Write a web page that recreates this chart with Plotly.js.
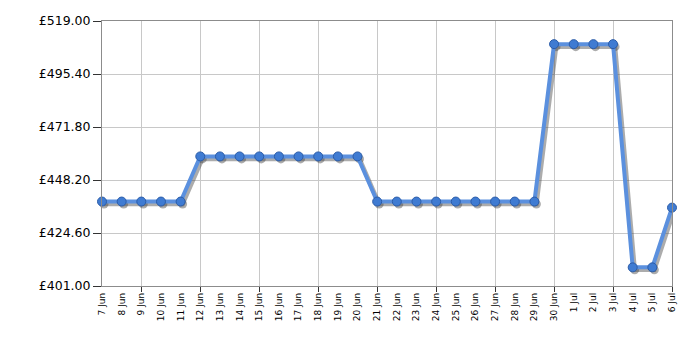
<!DOCTYPE html>
<html>
<head>
<meta charset="utf-8">
<script src="https://cdn.plot.ly/plotly-3.0.1.min.js"></script>
<style>html,body{margin:0;padding:0;background:#fff;}#chart{width:700px;height:350px;}</style>
</head>
<body>
<div id="chart"></div>
<script>
const dates = ["7 Jun","8 Jun","9 Jun","10 Jun","11 Jun","12 Jun","13 Jun","14 Jun","15 Jun","16 Jun","17 Jun","18 Jun","19 Jun","20 Jun","21 Jun","22 Jun","23 Jun","24 Jun","25 Jun","26 Jun","27 Jun","28 Jun","29 Jun","30 Jun","1 Jul","2 Jul","3 Jul","4 Jul","5 Jul","6 Jul"];
const prices = [438.6,438.6,438.6,438.6,438.6,458.7,458.7,458.7,458.7,458.7,458.7,458.7,458.7,458.7,438.6,438.6,438.6,438.6,438.6,438.6,438.6,438.6,438.6,508.7,508.7,508.7,508.7,409.3,409.3,435.9];
const yMin = 401, yMax = 519, yStep = 23.6;

const idx = dates.map((d, i) => i);
const n = dates.length;
// major grid ticks every 3 days counted from the last day
const gridIdx = [];
for (let i = n - 1; i >= 0; i -= 3) gridIdx.unshift(i);

const L = 102, R = 28, T = 21, B = 64;
const W = 700 - L - R, H = 350 - T - B;
const xr = [0, n - 1];
const pxX = (n - 1) / W, pxY = (yMax - yMin) / H;
const sdx = 2, sdy = 2.5;

const gridTrace = {x: [0], y: [yMin], xaxis: 'x', yaxis: 'y', type: 'scatter', mode: 'markers', marker: {opacity: 0}, hoverinfo: 'skip'};
const shadow = {
  x: idx, y: prices, xaxis: 'x2', yaxis: 'y2', type: 'scatter', mode: 'lines+markers',
  line: {color: 'rgba(70,70,70,0.45)', width: 4.5},
  marker: {size: 9, color: 'rgba(70,70,70,0.45)'},
  hoverinfo: 'skip', cliponaxis: false
};
const labelTrace = {x: [0], y: [yMin], xaxis: 'x3', yaxis: 'y', type: 'scatter', mode: 'markers', marker: {opacity: 0}, hoverinfo: 'skip'};
const main = {
  x: idx, y: prices, xaxis: 'x4', yaxis: 'y4', type: 'scatter', mode: 'lines+markers',
  line: {color: '#5b90de', width: 4},
  marker: {size: 9, color: '#3f7bd2', line: {color: '#2b5ca8', width: 1}},
  cliponaxis: false
};

const layout = {
  width: 700, height: 350,
  margin: {l: L, r: R, t: T, b: B},
  paper_bgcolor: '#fff', plot_bgcolor: '#fff',
  showlegend: false,
  font: {family: 'DejaVu Sans, Verdana, sans-serif', color: '#000'},
  xaxis: {
    range: xr, tickmode: 'array', tickvals: gridIdx,
    showticklabels: false, showgrid: true, gridcolor: '#c8c8c8', gridwidth: 1,
    ticks: 'outside', ticklen: 5, tickcolor: '#333', zeroline: false,
    showline: true, linecolor: '#8c8c8c', linewidth: 1, mirror: true,
    fixedrange: true
  },
  yaxis: {
    range: [yMin, yMax], tick0: yMin, dtick: yStep, tickmode: 'linear',
    tickprefix: '£', tickformat: '.2f', tickfont: {size: 12.5, color: '#000'},
    showgrid: true, gridcolor: '#c8c8c8', gridwidth: 1, zeroline: false,
    ticks: 'outside', ticklen: 8, tickcolor: '#333',
    showline: true, linecolor: '#8c8c8c', linewidth: 1, mirror: true,
    fixedrange: true
  },
  xaxis2: {overlaying: 'x', range: [xr[0] - sdx * pxX, xr[1] - sdx * pxX], visible: false},
  yaxis2: {overlaying: 'y', range: [yMin + sdy * pxY, yMax + sdy * pxY], visible: false},
  xaxis3: {
    overlaying: 'x', side: 'bottom', range: xr, tickmode: 'array', tickvals: idx, ticktext: dates,
    tickangle: -90, tickfont: {size: 9, color: '#000'}, ticklabelstandoff: 4,
    showgrid: false, zeroline: false, ticks: '', showline: false
  },
  xaxis4: {overlaying: 'x', range: xr, visible: false},
  yaxis4: {overlaying: 'y', range: [yMin, yMax], visible: false}
};

Plotly.newPlot('chart', [gridTrace, shadow, labelTrace, main], layout, {displayModeBar: false, staticPlot: true});
</script>
</body>
</html>
